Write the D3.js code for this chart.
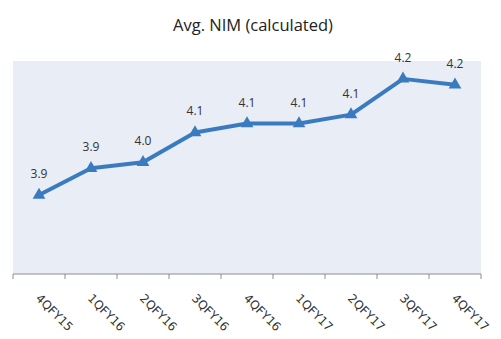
<!DOCTYPE html>
<html>
<head>
<meta charset="utf-8">
<script src="https://cdn.jsdelivr.net/npm/d3@7"></script>
<style>
  html, body { margin: 0; padding: 0; background: #fff; }
  svg { display: block; }
</style>
</head>
<body>
<svg id="chart" width="501" height="339"></svg>
<script>
// Quarterly average net interest margin (%)
const quarters = ["4QFY15", "1QFY16", "2QFY16", "3QFY16", "4QFY16", "1QFY17", "2QFY17", "3QFY17", "4QFY17"];
const nim = [3.85, 3.94, 3.96, 4.06, 4.09, 4.09, 4.12, 4.24, 4.22];
const chartTitle = "Avg. NIM (calculated)";

const W = 501, H = 339;
const plot = { left: 13, right: 481, top: 61, bottom: 274 };

const svg = d3.select("#chart");

// plot area background
svg.append("rect")
  .attr("x", plot.left).attr("y", plot.top)
  .attr("width", plot.right - plot.left)
  .attr("height", plot.bottom - plot.top)
  .attr("fill", "#e9edf5");

const x = d3.scaleBand().domain(quarters).range([plot.left, plot.right]).padding(0);
const y = d3.scaleLinear().domain([3.585, 4.30]).range([plot.bottom, plot.top]);

// title
svg.append("text")
  .attr("x", 253).attr("y", 31)
  .attr("text-anchor", "middle")
  .attr("font-family", "'Open Sans', sans-serif")
  .attr("font-size", 16.5)
  .attr("fill", "#222")
  .text(chartTitle);

// category axis: line with ticks on band boundaries
const axisG = svg.append("g").attr("transform", `translate(0,${plot.bottom})`);
axisG.append("line")
  .attr("x1", plot.left).attr("x2", plot.right)
  .attr("stroke", "#8c8c8c").attr("stroke-width", 1);
const bounds = quarters.map(q => x(q)).concat([x(quarters[quarters.length - 1]) + x.bandwidth()]);
axisG.selectAll("line.tick").data(bounds).join("line")
  .attr("class", "tick")
  .attr("x1", d => d).attr("x2", d => d)
  .attr("y1", 0).attr("y2", 5)
  .attr("stroke", "#8c8c8c").attr("stroke-width", 1);

// rotated category labels
svg.append("g").selectAll("text").data(quarters).join("text")
  .attr("transform", d => `translate(${x(d) + x.bandwidth() / 2 - 4},${plot.bottom + 25}) rotate(45)`)
  .attr("font-family", "'DejaVu Sans', sans-serif")
  .attr("font-size", 12)
  .attr("fill", "#333")
  .text(d => d);

const cx = d => x(d) + x.bandwidth() / 2;

// series line
const line = d3.line().x((d, i) => cx(quarters[i])).y(d => y(d));
svg.append("path")
  .datum(nim)
  .attr("d", line)
  .attr("fill", "none")
  .attr("stroke", "#3a7bbf")
  .attr("stroke-width", 4)
  .attr("stroke-linejoin", "round");

// triangle markers
const tri = d3.symbol().type(d3.symbolTriangle).size(70);
svg.append("g").selectAll("path").data(nim).join("path")
  .attr("transform", (d, i) => `translate(${cx(quarters[i])},${y(d)})`)
  .attr("d", tri)
  .attr("fill", "#3a7bbf");

// value labels
const fmt = d3.format(".1f");
svg.append("g").selectAll("text").data(nim).join("text")
  .attr("x", (d, i) => cx(quarters[i]))
  .attr("y", d => y(d) - 17)
  .attr("text-anchor", "middle")
  .attr("font-family", "'Open Sans', sans-serif")
  .attr("font-size", 12)
  .attr("fill", "#333")
  .text(d => fmt(d));
</script>
</body>
</html>
